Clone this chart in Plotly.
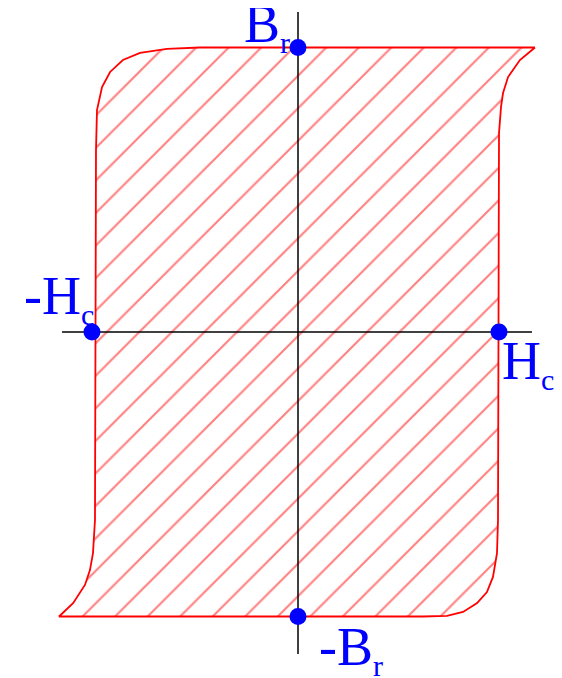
import plotly.graph_objects as go

# Hysteresis loop outline (H, B), clockwise from top-right tip
loop_H = [1.179, 1.104, 1.045, 1.020, 1.010, 1.000, 0.995, 0.990, 0.970, 0.940, 0.891, 0.821,
          0.741, 0.622, 0.408, -1.189, -1.119, -1.060, -1.035, -1.020, -1.010, -1.005, -1.000,
          -0.975, -0.935, -0.871, -0.786, -0.652, -0.488, 1.179]
loop_B = [1.000, 0.956, 0.896, 0.840, 0.791, 0.699, -0.661, -0.777, -0.861, -0.914, -0.953, -0.984,
          -0.998, -1.000, -1.000, -1.000, -0.953, -0.889, -0.837, -0.777, -0.661, 0.640, 0.780,
          0.861, 0.914, 0.956, 0.981, 0.995, 1.000, 1.000]

# Key points
point_H = [0.0, 0.0, -1.025, 1.0]
point_B = [1.0, -1.0, 0.0, 0.0]
label_main = ["B", "-B", "-H", "H"]
label_sub = ["r", "r", "c", "c"]
label_H = [-0.155, 0.262, -1.190, 1.145]
label_B = [1.074, -1.116, 0.118, -0.112]

# Axis extents
h_axis = [-1.174, 1.164]
b_axis = [1.125, -1.132]

fig = go.Figure()

fig.add_trace(go.Scatter(
    x=loop_H, y=loop_B, mode="lines", fill="toself",
    line=dict(color="red", width=1.8),
    fillcolor="white",
    fillpattern=dict(shape="/", size=23, solidity=0.09, fgcolor="red", bgcolor="white"),
    hoverinfo="skip", showlegend=False))

fig.add_trace(go.Scatter(x=h_axis, y=[0, 0], mode="lines",
                         line=dict(color="black", width=1.5), showlegend=False))
fig.add_trace(go.Scatter(x=[0, 0], y=b_axis, mode="lines",
                         line=dict(color="black", width=1.5), showlegend=False))

fig.add_trace(go.Scatter(x=point_H, y=point_B, mode="markers",
                         marker=dict(color="blue", size=17), showlegend=False))

for m, s, hx, by in zip(label_main, label_sub, label_H, label_B):
    fig.add_annotation(x=hx, y=by,
                       text=f"{m}<sub><span style='font-size:30px'>{s}</span></sub>",
                       showarrow=False,
                       font=dict(family="Liberation Serif", size=54, color="blue"),
                       xanchor="center", yanchor="middle")

fig.update_layout(
    width=562, height=678,
    margin=dict(l=0, r=0, t=0, b=0),
    paper_bgcolor="white", plot_bgcolor="white",
    xaxis=dict(range=[-1.4428, 1.3532], visible=False, fixedrange=True),
    yaxis=dict(range=[-1.2443, 1.1388], visible=False, fixedrange=True),
)

fig.write_html("out.html")
